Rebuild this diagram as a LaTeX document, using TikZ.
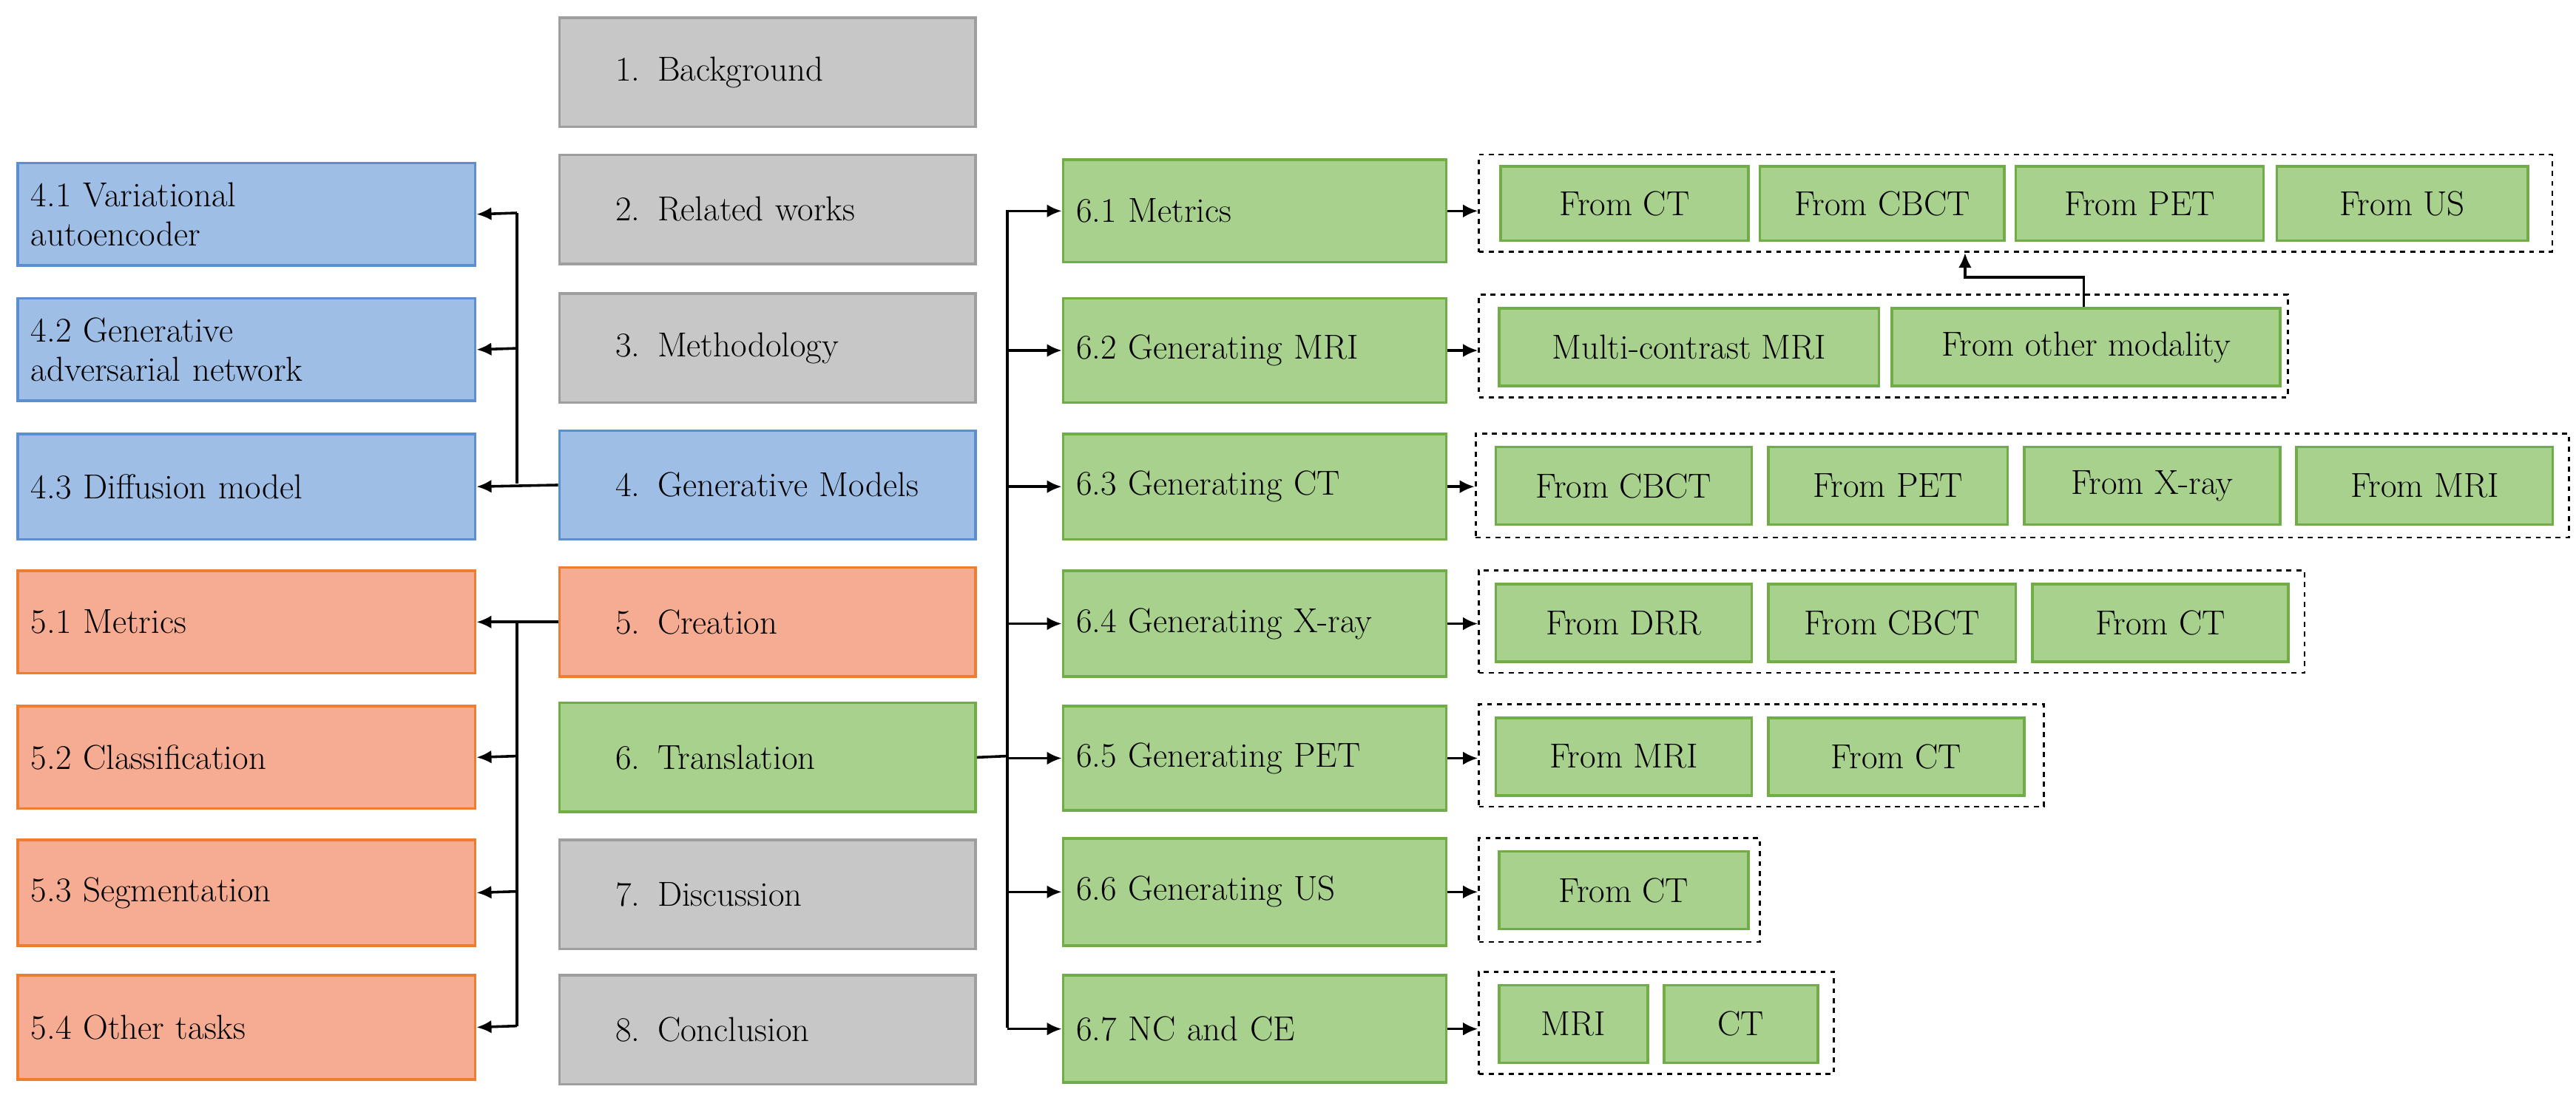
\documentclass[tikz,border=0pt]{standalone}
\usetikzlibrary{arrows.meta}
\begin{document}
\begin{tikzpicture}[x=1pt,y=-1pt,
  base/.style={draw,line width=1.6pt,anchor=north west,inner sep=0pt,font=\rmfamily\fontsize{21}{24}\selectfont},
  big/.style={base,text width=#1-16pt,align=left,inner xsep=8pt},
  mid/.style={base,text width=#1-68pt,align=left,inner xsep=34pt,inner ysep=0pt},
  gray/.style={fill=black!22,draw=black!38},
  blu/.style={fill={rgb,255:red,158;green,190;blue,230},draw={rgb,255:red,91;green,143;blue,208}},
  ora/.style={fill={rgb,255:red,245;green,172;blue,146},draw={rgb,255:red,237;green,125;blue,49}},
  grn/.style={fill={rgb,255:red,169;green,209;blue,142},draw={rgb,255:red,112;green,173;blue,71}},
  sm/.style={base,grn,align=center},
  dbox/.style={draw,dashed,line width=1.2pt},
  arr/.style={-{Latex[length=9pt,width=8pt]},line width=1.6pt},
  ln/.style={line width=1.6pt}]
\useasboundingbox (0,0) rectangle (1560,663);
% gray column
\foreach \n/\y/\t/\s in {g1/10/1. Background/gray,g2/93/2. Related works/gray,g3/177/3. Methodology/gray,g4/260/4. Generative Models/blu,g5/343/5. Creation/ora,g6/425/6. Translation/grn,g7/508/7. Discussion/gray,g8/590/8. Conclusion/gray}
  \node[mid=252pt,\s,minimum height=66pt] (\n) at (338,\y) {\t};
% left column
\node[big=277pt,blu,minimum height=62pt] (a1) at (10,98) {4.1 Variational\\autoencoder};
\node[big=277pt,blu,minimum height=62pt] (a2) at (10,180) {4.2 Generative\\adversarial network};
\node[big=277pt,blu,minimum height=64pt] (a3) at (10,262) {4.3 Diffusion model};
\node[big=277pt,ora,minimum height=62pt] (b1) at (10,345) {5.1 Metrics};
\node[big=277pt,ora,minimum height=62pt] (b2) at (10,427) {5.2 Classification};
\node[big=277pt,ora,minimum height=64pt] (b3) at (10,508) {5.3 Segmentation};
\node[big=277pt,ora,minimum height=63pt] (b4) at (10,590) {5.4 Other tasks};
% blue connectors
\draw[arr] (g4.west) -- (a3.east);
\draw[ln] (313,293) -- (313,129);
\draw[arr] (313,129) -- (a1.east);
\draw[arr] (313,211) -- (a2.east);
% orange connectors
\draw[arr] (g5.west) -- (b1.east);
\draw[ln] (313,376) -- (313,621.5);
\draw[arr] (313,458) -- (b2.east);
\draw[arr] (313,540) -- (b3.east);
\draw[arr] (313,621.5) -- (b4.east);
% green column
\foreach \n/\y/\h/\t in {c1/96/62/6.1 Metrics,c2/180/63/6.2 Generating MRI,c3/262/64/6.3 Generating CT,c4/345/64/6.4 Generating X-ray,c5/427/63/6.5 Generating PET,c6/507/65/6.6 Generating US,c7/590/65/6.7 NC and CE}
  \node[big=232pt,grn,minimum height=\h pt] (\n) at (643,\y) {\t};
\draw[ln] (g6.east) -- (610,458);
\draw[ln] (610,127) -- (610,622.5);
\foreach \n in {c1,c2,c3,c4,c5,c6,c7} \draw[arr] (610,0 |- \n.west) -- (\n.west);
% dashed groups
\node[dbox,anchor=north west,minimum width=650pt,minimum height=59pt,inner sep=0pt] (d1) at (895,93) {};
\node[dbox,anchor=north west,minimum width=490pt,minimum height=62pt,inner sep=0pt] (d2) at (895,178) {};
\node[dbox,anchor=north west,minimum width=662pt,minimum height=63pt,inner sep=0pt] (d3) at (893,262) {};
\node[dbox,anchor=north west,minimum width=500pt,minimum height=62pt,inner sep=0pt] (d4) at (895,345) {};
\node[dbox,anchor=north west,minimum width=342pt,minimum height=62pt,inner sep=0pt] (d5) at (895,426) {};
\node[dbox,anchor=north west,minimum width=170pt,minimum height=63pt,inner sep=0pt] (d6) at (895,507) {};
\node[dbox,anchor=north west,minimum width=215pt,minimum height=62pt,inner sep=0pt] (d7) at (895,588) {};
\foreach \i in {1,...,7} \draw[arr] (c\i.east) -- (c\i.east -| d\i.west);
% small boxes
\foreach \n/\x/\w/\t in {p1/908/150/From CT,p2/1065/148/From CBCT,p3/1220/150/From PET,p4/1378/152/From US}
  \node[sm,minimum width=\w pt,minimum height=45pt] (\n) at (\x,100) {\t};
\foreach \n/\x/\w/\t in {q1/907/230/Multi-contrast MRI,q2/1145/235/From other modality}
  \node[sm,minimum width=\w pt,minimum height=47pt] (\n) at (\x,186) {\t};
\foreach \n/\x/\w/\t in {r1/905/155/From CBCT,r2/1070/145/From PET,r3/1225/155/From X-ray,r4/1390/155/From MRI}
  \node[sm,minimum width=\w pt,minimum height=47pt] (\n) at (\x,270) {\t};
\foreach \n/\x/\w/\t in {s1/905/155/From DRR,s2/1070/150/From CBCT,s3/1230/155/From CT}
  \node[sm,minimum width=\w pt,minimum height=47pt] (\n) at (\x,353) {\t};
\foreach \n/\x/\w/\t in {t1/905/155/From MRI,t2/1070/155/From CT}
  \node[sm,minimum width=\w pt,minimum height=47pt] (\n) at (\x,434) {\t};
\node[sm,minimum width=151pt,minimum height=47pt] (u1) at (907,515) {From CT};
\node[sm,minimum width=90pt,minimum height=47pt] (v1) at (907,596) {MRI};
\node[sm,minimum width=93pt,minimum height=47pt] (v2) at (1007,596) {CT};
% modality arrow
\coordinate (m1) at (1262,168);
\coordinate (m2) at (1190,168);
\draw[arr] (q2.north -| m1) -- (m1) -- (m2) -- (m2 |- d1.south);
\end{tikzpicture}
\end{document}
